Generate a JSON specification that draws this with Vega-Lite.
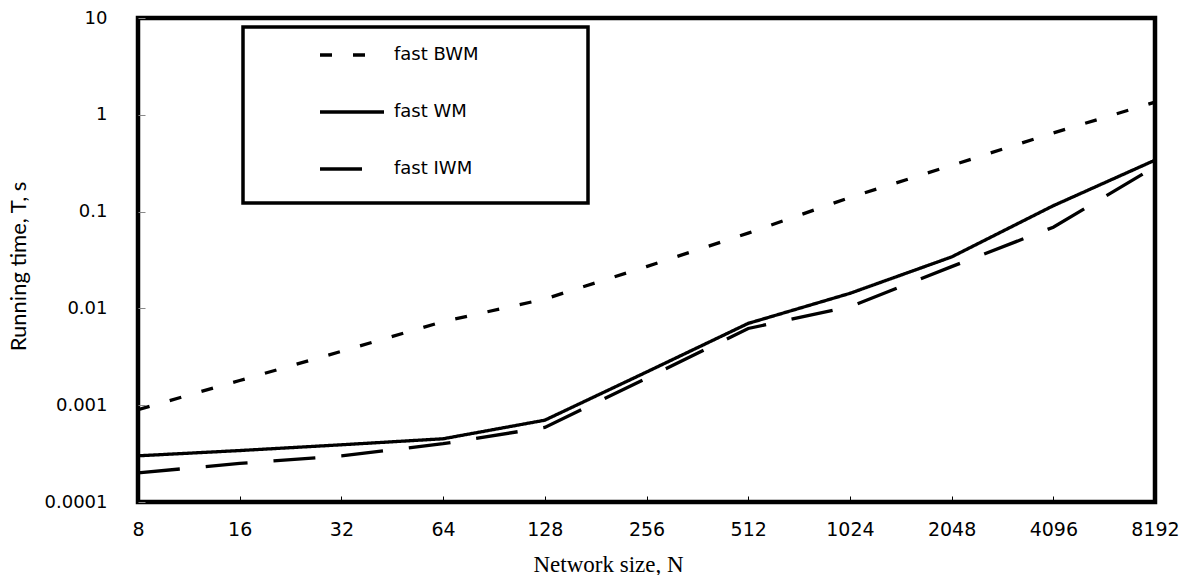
{
  "$schema": "https://vega.github.io/schema/vega-lite/v6.json",
  "width": 1017,
  "height": 484,
  "autosize": {"type": "none"},
  "padding": {"left": 138, "top": 18, "right": 42, "bottom": 73},
  "background": "white",
  "config": {
    "view": {"stroke": "black", "strokeWidth": 4.5},
    "axis": {"grid": false, "domain": false}
  },
  "data": {
    "values": [
      {"N": 8, "series": "fast BWM", "T": 0.0009},
      {"N": 16, "series": "fast BWM", "T": 0.0018},
      {"N": 32, "series": "fast BWM", "T": 0.0036},
      {"N": 64, "series": "fast BWM", "T": 0.0073},
      {"N": 128, "series": "fast BWM", "T": 0.0125},
      {"N": 256, "series": "fast BWM", "T": 0.027},
      {"N": 512, "series": "fast BWM", "T": 0.06},
      {"N": 1024, "series": "fast BWM", "T": 0.14},
      {"N": 2048, "series": "fast BWM", "T": 0.3},
      {"N": 4096, "series": "fast BWM", "T": 0.65},
      {"N": 8192, "series": "fast BWM", "T": 1.35},
      {"N": 8, "series": "fast WM", "T": 0.0003},
      {"N": 16, "series": "fast WM", "T": 0.00034},
      {"N": 32, "series": "fast WM", "T": 0.00039},
      {"N": 64, "series": "fast WM", "T": 0.00045},
      {"N": 128, "series": "fast WM", "T": 0.0007},
      {"N": 256, "series": "fast WM", "T": 0.0022},
      {"N": 512, "series": "fast WM", "T": 0.007},
      {"N": 1024, "series": "fast WM", "T": 0.0143},
      {"N": 2048, "series": "fast WM", "T": 0.034},
      {"N": 4096, "series": "fast WM", "T": 0.115},
      {"N": 8192, "series": "fast WM", "T": 0.34},
      {"N": 8, "series": "fast IWM", "T": 0.0002},
      {"N": 16, "series": "fast IWM", "T": 0.00025},
      {"N": 32, "series": "fast IWM", "T": 0.0003},
      {"N": 64, "series": "fast IWM", "T": 0.0004},
      {"N": 128, "series": "fast IWM", "T": 0.00059},
      {"N": 256, "series": "fast IWM", "T": 0.0019},
      {"N": 512, "series": "fast IWM", "T": 0.0062},
      {"N": 1024, "series": "fast IWM", "T": 0.0104},
      {"N": 2048, "series": "fast IWM", "T": 0.027},
      {"N": 4096, "series": "fast IWM", "T": 0.069},
      {"N": 8192, "series": "fast IWM", "T": 0.29}
    ]
  },
  "mark": {"type": "line", "color": "black", "strokeWidth": 3.3, "clip": true},
  "encoding": {
    "x": {
      "field": "N",
      "type": "quantitative",
      "scale": {"type": "log", "base": 2, "domain": [8, 8192], "nice": false},
      "axis": {
        "values": [8, 16, 32, 64, 128, 256, 512, 1024, 2048, 4096, 8192],
        "format": "d",
        "title": "Network size, N",
        "titleFont": "Liberation Serif",
        "titleFontSize": 23,
        "titleFontWeight": "normal",
        "titleColor": "black",
        "titleX": 470,
        "titlePadding": 14,
        "labelFont": "DejaVu Sans",
        "labelFontSize": 19,
        "labelColor": "black",
        "labelPadding": 24,
        "labelOverlap": false,
        "labelFlush": false,
        "tickSize": -6,
        "tickColor": "black",
        "tickWidth": 1
      }
    },
    "y": {
      "field": "T",
      "type": "quantitative",
      "scale": {"type": "log", "domain": [0.0001, 10], "nice": false},
      "axis": {
        "values": [0.0001, 0.001, 0.01, 0.1, 1, 10],
        "format": "~g",
        "title": "Running time, T, s",
        "titleFont": "Lato",
        "titleFontSize": 22,
        "titleFontWeight": "normal",
        "titleColor": "black",
        "titlePadding": 14,
        "titleY": 248,
        "labelFont": "DejaVu Sans",
        "labelFontSize": 18,
        "labelColor": "black",
        "labelPadding": 38,
        "labelOverlap": false,
        "labelFlush": false,
        "tickSize": -7,
        "tickColor": "#888888",
        "tickWidth": 1
      }
    },
    "strokeDash": {
      "field": "series",
      "type": "nominal",
      "scale": {
        "domain": ["fast BWM", "fast WM", "fast IWM"],
        "range": [[12, 21], [1, 0], [42, 26]]
      },
      "legend": {
        "orient": "none",
        "legendX": 105,
        "legendY": 9,
        "title": " ",
        "titleOrient": "right",
        "titleFont": "DejaVu Sans",
        "titleFontSize": 174,
        "titlePadding": 105,
        "fillColor": "white",
        "strokeColor": "black",
        "padding": 4,
        "symbolType": "stroke",
        "symbolSize": 4096,
        "symbolStrokeWidth": 3.3,
        "symbolStrokeColor": "black",
        "symbolOffset": 71,
        "labelOffset": 8,
        "labelFont": "DejaVu Sans",
        "labelFontSize": 18,
        "labelColor": "black",
        "clipHeight": 48,
        "rowPadding": 9,
        "encode": {"legend": {"update": {"strokeWidth": {"value": 3.5}}}}
      }
    }
  }
}
